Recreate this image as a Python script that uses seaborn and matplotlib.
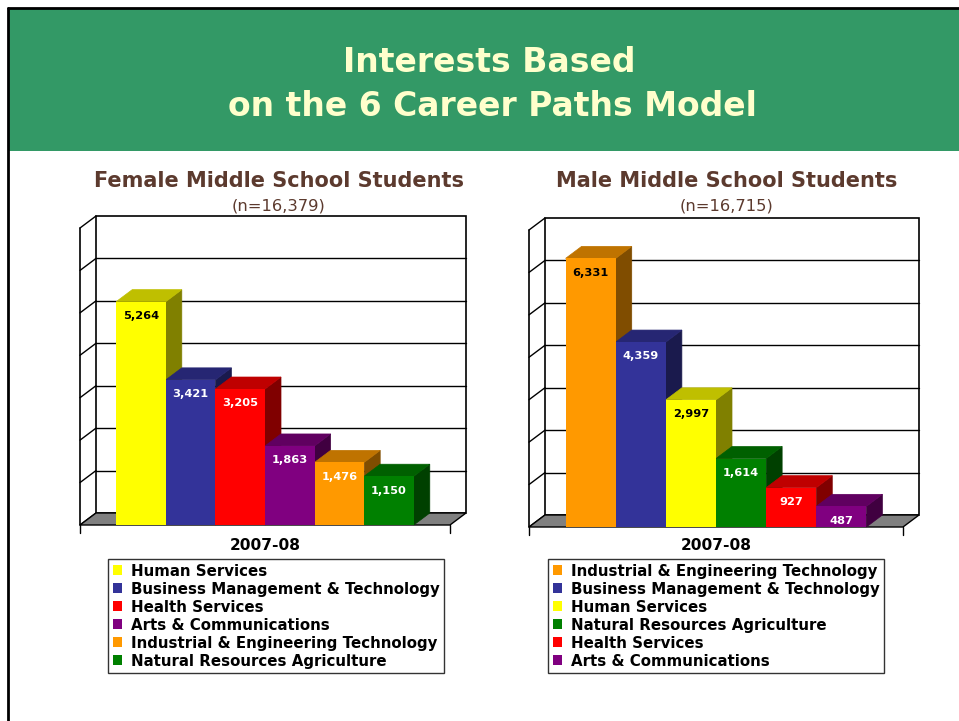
import numpy as np
import pandas as pd
import matplotlib
matplotlib.use('Agg')
import matplotlib.pyplot as plt
from matplotlib.patches import Polygon, Rectangle
from matplotlib.lines import Line2D
import matplotlib.colors as mcolors
import seaborn as sns

# data
female_cats = ['Human Services', 'Business Management & Technology', 'Health Services',
               'Arts & Communications', 'Industrial & Engineering Technology',
               'Natural Resources Agriculture']
female_vals = [5264, 3421, 3205, 1863, 1476, 1150]
female_n = '16,379'

male_cats = ['Industrial & Engineering Technology', 'Business Management & Technology',
             'Human Services', 'Natural Resources Agriculture', 'Health Services',
             'Arts & Communications']
male_vals = [6331, 4359, 2997, 1614, 927, 487]
male_n = '16,715'

year_label = '2007-08'
y_max = 7000
grid_step = 1000

career_colors = {
    'Human Services': '#FFFF00',
    'Business Management & Technology': '#333399',
    'Health Services': '#FF0000',
    'Arts & Communications': '#800080',
    'Industrial & Engineering Technology': '#FF9900',
    'Natural Resources Agriculture': '#008000',
}

W, H = 959, 721
sns.set_theme(style='white')
plt.rcParams['font.family'] = ['DejaVu Sans']

fig = plt.figure(figsize=(W / 100, H / 100), dpi=100)
fig.patch.set_facecolor('white')


def fx(x):
    return x / W


def fy(y):
    return 1 - y / H


# slide frame + green header
fig.patches.append(Rectangle((fx(9), fy(151)), fx(W) - fx(9), fy(9) - fy(151),
                             transform=fig.transFigure, facecolor='#339966',
                             edgecolor='none', zorder=0))
fig.lines.append(Line2D([fx(8), fx(W)], [fy(8), fy(8)], transform=fig.transFigure,
                        color='black', lw=2))
fig.lines.append(Line2D([fx(8), fx(8)], [fy(8), fy(H)], transform=fig.transFigure,
                        color='black', lw=2))
fig.text(fx(489), fy(62), 'Interests Based', ha='center', va='center',
         color='#FFFFCC', fontsize=23.8, fontweight='bold')
fig.text(fx(492), fy(106), 'on the 6 Career Paths Model', ha='center', va='center',
         color='#FFFFCC', fontsize=23.8, fontweight='bold')


def shade(color, f):
    r, g, b = mcolors.to_rgb(color)
    return (r * f, g * f, b * f)


def draw_chart(box, cats, vals, title, n, dark_labels, title_x, legend_xy):
    left, right, bottom, top = box
    ax = fig.add_axes([fx(left), fy(bottom), fx(right) - fx(left), fy(top) - fy(bottom)])
    df = pd.DataFrame({'career': cats, 'students': vals})
    sns.barplot(data=df, x='career', y='students', hue='career', order=cats,
                hue_order=cats, palette=career_colors, width=1, saturation=1,
                errorbar=None, linewidth=0, legend=True, ax=ax)
    x0, x1 = -1.23, len(cats) - 1 + 1.23
    ax.set_xlim(x0, x1)
    ax.set_ylim(0, y_max)
    ax.axis('off')

    # depth of the fake 3d box, 16 px right, 12 px up
    dx = 16 / (right - left) * (x1 - x0)
    dy = 12 / (bottom - top) * y_max

    # back wall, floor, side wall
    ax.add_patch(Rectangle((x0 + dx, dy), x1 - x0, y_max, facecolor='white',
                           edgecolor='black', lw=1.2, zorder=1, clip_on=False))
    for k in range(1, y_max // grid_step):
        ax.plot([x0 + dx, x1 + dx], [k * grid_step + dy] * 2, color='black', lw=1,
                zorder=1.2, clip_on=False)
    for k in range(0, y_max // grid_step + 1):
        ax.plot([x0, x0 + dx], [k * grid_step, k * grid_step + dy], color='black',
                lw=1, zorder=1.2, clip_on=False)
    ax.plot([x0, x0], [0, y_max], color='black', lw=1.2, zorder=1.2, clip_on=False)
    ax.add_patch(Polygon([(x0, 0), (x1, 0), (x1 + dx, dy), (x0 + dx, dy)],
                         facecolor='#808080', edgecolor='black', lw=1, zorder=1.5,
                         clip_on=False))
    tick = 8 / (bottom - top) * y_max
    for xx in (x0, x1):
        ax.plot([xx, xx], [0, -tick], color='black', lw=1, zorder=1.5, clip_on=False)

    # bar sides/tops, then labels
    for i, cont in enumerate(ax.containers):
        for bar in cont:
            h = bar.get_height()
            if not np.isfinite(h):
                continue
            a = bar.get_x()
            b = a + bar.get_width()
            c = bar.get_facecolor()
            ax.add_patch(Polygon([(b, 0), (b, h), (b + dx, h + dy), (b + dx, dy)],
                                 facecolor=shade(c, 0.5), edgecolor=shade(c, 0.5),
                                 lw=0.5, zorder=3 + 0.1 * i, clip_on=False))
            ax.add_patch(Polygon([(a, h), (b, h), (b + dx, h + dy), (a + dx, h + dy)],
                                 facecolor=shade(c, 0.75), edgecolor=shade(c, 0.75),
                                 lw=0.5, zorder=3.05 + 0.1 * i, clip_on=False))
            bar.set_zorder(5)
        cat = cats[i]
        txt = ax.bar_label(cont, labels=[f'{vals[i]:,}'], padding=-14, fontsize=8.2,
                           fontweight='bold',
                           color='black' if cat in dark_labels else 'white')
        for t in txt:
            t.set_zorder(6)

    fig.text(fx(title_x), fy(181), title, ha='center', va='center', fontsize=15,
             fontweight='bold', color='#5C3A2E')
    fig.text(fx(title_x), fy(206), f'(n={n})', ha='center', va='center', fontsize=11.8,
             color='#5C3A2E')
    fig.text(fx((left + right) / 2), fy(545), year_label, ha='center', va='center',
             fontsize=11.1, fontweight='bold', color='black')

    sns.move_legend(ax, 'upper left', bbox_to_anchor=(fx(legend_xy[0]), fy(legend_xy[1])),
                    bbox_transform=fig.transFigure, title=None, frameon=True,
                    prop={'weight': 'bold', 'size': 10.85}, labelcolor='black',
                    handlelength=0.6, handleheight=0.6, handletextpad=0.6,
                    labelspacing=0.2, borderpad=0.3, borderaxespad=0, fancybox=False,
                    shadow=False)
    leg = ax.get_legend()
    leg.get_frame().set_edgecolor('black')
    leg.get_frame().set_linewidth(1)
    return ax


draw_chart((80, 450, 525, 228), female_cats, female_vals, 'Female Middle School Students',
           female_n, {'Human Services'}, 279, (108, 559))
draw_chart((529, 903, 527, 230), male_cats, male_vals, 'Male Middle School Students',
           male_n, {'Human Services', 'Industrial & Engineering Technology'}, 727, (548, 559))

fig.savefig('out.png', dpi=100)
